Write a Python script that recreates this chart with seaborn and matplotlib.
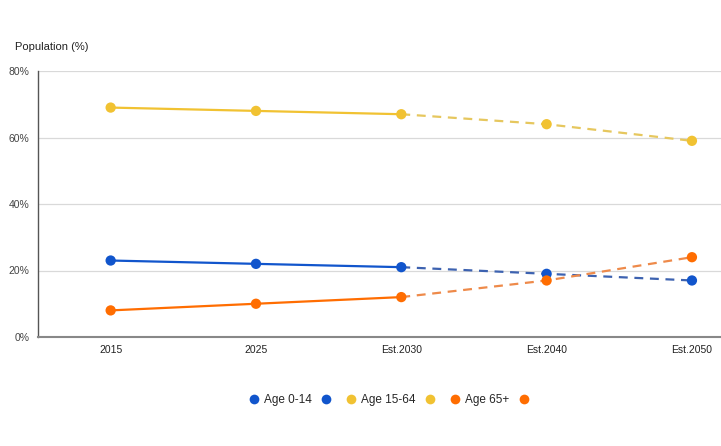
import matplotlib
matplotlib.use("Agg")
import matplotlib.pyplot as plt
from matplotlib.lines import Line2D
import seaborn as sns
import pandas as pd

years = ["2015", "2025", "Est.2030", "Est.2040", "Est.2050"]
age_0_14 = [23, 22, 21, 19, 17]
age_15_64 = [69, 68, 67, 64, 59]
age_65 = [8, 10, 12, 17, 24]
series_names = ["Age 0-14", "Age 15-64", "Age 65+"]
y_ticks = [0, 20, 40, 60, 80]

colors = {"Age 0-14": "#1155cc", "Age 15-64": "#f1c232", "Age 65+": "#ff6d01"}
dash_colors = {"Age 0-14": "#3d62b0", "Age 15-64": "#e6c75e", "Age 65+": "#ee8a4a"}

sns.set_style("white")
plt.rcParams['font.family'] = ['Liberation Sans', 'DejaVu Sans']

fig = plt.figure(figsize=(7.21, 4.46), dpi=100)
ax = fig.add_axes([38/721, (446-337)/446, 1 - 38/721, (337-71)/446])

rows = []
for name, vals in zip(series_names, [age_0_14, age_15_64, age_65]):
    for i, (yr, v) in enumerate(zip(years, vals)):
        rows.append({"series": name, "pos": i, "year": yr, "value": v})
df = pd.DataFrame(rows)

for name in series_names:
    d = df[df.series == name]
    solid = d[d.pos <= 2]
    dashed = d[d.pos >= 2]
    sns.lineplot(data=dashed, x="pos", y="value", ax=ax, color=dash_colors[name],
                 linestyle=(0, (4, 3)), linewidth=1.6, zorder=2)
    sns.lineplot(data=solid, x="pos", y="value", ax=ax, color=colors[name],
                 linewidth=1.6, zorder=3)
    sns.scatterplot(data=d, x="pos", y="value", ax=ax, color=colors[name],
                    s=55, edgecolor="none", zorder=4)

ax.set_xlim(-0.5, 4.2)
ax.set_ylim(0, 80)
ax.set_yticks(y_ticks)
ax.set_yticklabels([f"{t}%" for t in y_ticks], fontsize=7.5, color="#444444",
                   family="Liberation Sans")
ax.set_xticks(range(len(years)))
ax.set_xticklabels(years, fontsize=7.5, color="#222222", family="Liberation Sans")
ax.set_xlabel("")
ax.set_ylabel("")
ax.tick_params(axis="both", length=0, pad=6)
for t in y_ticks[1:]:
    ax.axhline(t, color="#d9d9d9", linewidth=0.9, zorder=1)
for s in ["top", "right"]:
    ax.spines[s].set_visible(False)
ax.spines["left"].set_color("#555555")
ax.spines["left"].set_linewidth(1.0)
ax.spines["bottom"].set_color("#888888")
ax.spines["bottom"].set_linewidth(1.5)

fig.text(15/721, 1 - 47/446, "Population (%)", fontsize=8, color="#222222", va="center")

handles, labels = [], []
for name in series_names:
    for lab in [name, ""]:
        handles.append(Line2D([], [], linestyle="none", marker="o", markersize=7,
                              markerfacecolor=colors[name], markeredgecolor="none"))
        labels.append(lab)
fig.legend(handles, labels, loc="center", bbox_to_anchor=(391/721, 1 - 400/446),
           ncol=6, frameon=False, fontsize=8.5, handletextpad=0.35, columnspacing=0.75,
           handlelength=1.0)

fig.savefig("out.png", dpi=100)
